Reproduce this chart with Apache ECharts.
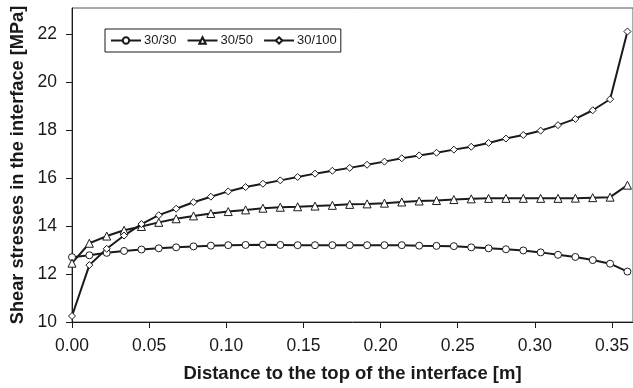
<!DOCTYPE html>
<html>
<head>
<meta charset="utf-8">
<script src="https://cdn.jsdelivr.net/npm/echarts@6/dist/echarts.min.js"></script>
<style>
  html, body { margin: 0; padding: 0; background: #fff; }
  #chart { width: 633px; height: 388px; }
</style>
</head>
<body>
<div id="chart"></div>
<script>
// distance along the interface [m], 33 nodes
const distances = [
  0.000, 0.01125, 0.0225, 0.03375, 0.045, 0.05625, 0.0675, 0.07875, 0.090,
  0.10125, 0.1125, 0.12375, 0.135, 0.14625, 0.1575, 0.16875, 0.180,
  0.19125, 0.2025, 0.21375, 0.225, 0.23625, 0.2475, 0.25875, 0.270,
  0.28125, 0.2925, 0.30375, 0.315, 0.32625, 0.3375, 0.34875, 0.360
];

// shear stress [MPa]
const stress3030 = [
  12.70, 12.78, 12.88, 12.96, 13.02, 13.07, 13.11, 13.15, 13.18, 13.20, 13.21,
  13.22, 13.21, 13.20, 13.20, 13.20, 13.20, 13.20, 13.20, 13.20, 13.18, 13.17,
  13.16, 13.11, 13.07, 13.03, 12.98, 12.90, 12.80, 12.71, 12.58, 12.43, 12.10
];
const stress3050 = [
  12.45, 13.28, 13.58, 13.82, 13.98, 14.15, 14.30, 14.42, 14.52, 14.60, 14.67,
  14.74, 14.78, 14.80, 14.83, 14.86, 14.90, 14.92, 14.95, 15.00, 15.04, 15.06,
  15.10, 15.13, 15.15, 15.15, 15.15, 15.15, 15.15, 15.16, 15.18, 15.20, 15.70
];
const stress30100 = [
  10.25, 12.37, 13.05, 13.60, 14.08, 14.45, 14.72, 14.99, 15.22, 15.44, 15.62,
  15.76, 15.90, 16.04, 16.18, 16.30, 16.42, 16.55, 16.68, 16.82, 16.94, 17.05,
  17.18, 17.30, 17.46, 17.64, 17.79, 17.97, 18.20, 18.46, 18.82, 19.28, 22.10
];

const xTicks = [0, 0.05, 0.10, 0.15, 0.20, 0.25, 0.30, 0.35];
const yTicks = [10, 12, 14, 16, 18, 20, 22];

const font = '"Liberation Sans", Arial, Helvetica, sans-serif';
const ink = '#1a1a1a';

function pairs(ys) {
  return distances.map((d, i) => [d, ys[i]]);
}

function makeSeries(name, symbol, ys) {
  return {
    name: name,
    type: 'line',
    data: pairs(ys),
    symbol: symbol,
    symbolSize: symbol === 'triangle' ? 8 : 7,
    showAllSymbol: true,
    lineStyle: { color: ink, width: 2 },
    itemStyle: { color: '#fff', borderColor: ink, borderWidth: 1 },
    emphasis: { disabled: true },
    animation: false
  };
}

const chart = echarts.init(document.getElementById('chart'));

chart.setOption({
  animation: false,
  grid: {
    left: 72,
    right: -1,
    top: 8,
    bottom: 66,
    show: true,
    borderColor: '#555',
    borderWidth: 1
  },
  legend: {
    left: 105,
    top: 29,
    orient: 'horizontal',
    borderColor: ink,
    borderWidth: 1,
    borderRadius: 0,
    padding: [5, 4, 5, 5],
    itemWidth: 30,
    itemHeight: 8,
    itemGap: 10,
    textStyle: { fontFamily: font, fontSize: 13, color: ink, padding: [0, 0, 0, -2] },
    data: ['30/30', '30/50', '30/100']
  },
  xAxis: {
    type: 'value',
    min: 0,
    max: 0.3636,
    name: 'Distance to the top of the interface [m]',
    nameLocation: 'middle',
    nameGap: 42,
    nameTextStyle: { fontFamily: font, fontSize: 18.5, fontWeight: 'bold', color: ink },
    axisLine: { lineStyle: { color: ink, width: 1 } },
    axisTick: { show: true, length: 6, customValues: xTicks, lineStyle: { color: ink } },
    axisLabel: {
      customValues: xTicks,
      formatter: (v) => v.toFixed(2),
      fontFamily: font, fontSize: 17.5, color: ink, margin: 15
    },
    splitLine: { show: false }
  },
  yAxis: {
    type: 'value',
    min: 10,
    max: 23.08,
    name: 'Shear stresses in the interface [MPa]',
    nameLocation: 'middle',
    nameRotate: 90,
    nameGap: 44,
    nameTextStyle: { fontFamily: font, fontSize: 18.2, fontWeight: 'bold', color: ink },
    axisLine: { show: true, lineStyle: { color: ink, width: 1 } },
    axisTick: { show: true, length: 6, customValues: yTicks, lineStyle: { color: ink } },
    axisLabel: {
      customValues: yTicks,
      fontFamily: font, fontSize: 17.5, color: ink, margin: 15
    },
    splitLine: { show: false }
  },
  series: [
    makeSeries('30/30', 'circle', stress3030),
    makeSeries('30/50', 'triangle', stress3050),
    makeSeries('30/100', 'diamond', stress30100)
  ]
});
</script>
</body>
</html>
